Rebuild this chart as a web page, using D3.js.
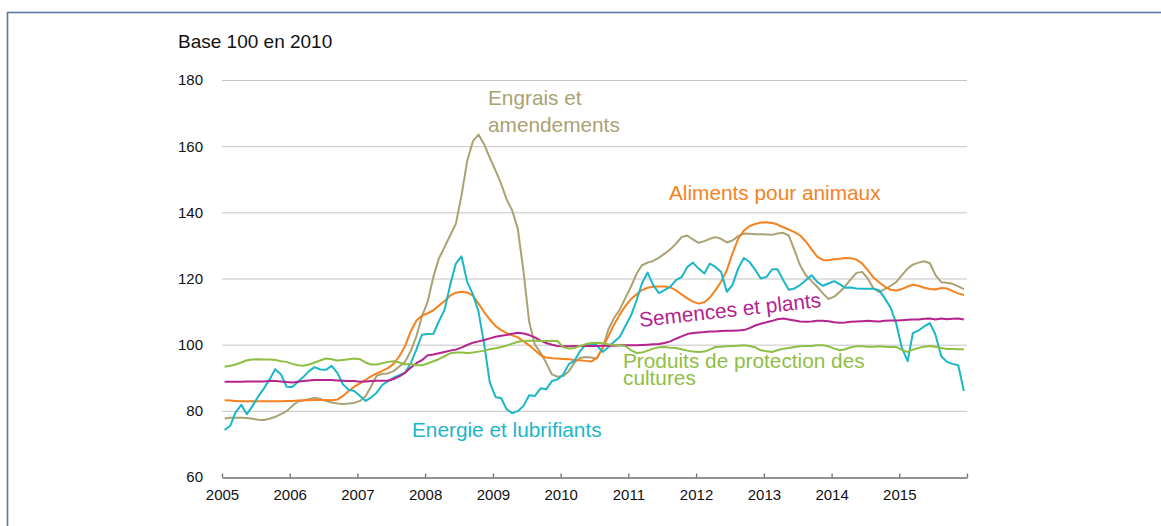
<!DOCTYPE html>
<html lang="fr">
<head>
<meta charset="utf-8">
<title>Prix des intrants agricoles</title>
<script src="https://d3js.org/d3.v7.min.js"></script>
<style>
body{margin:0;background:#fff;}
svg text{font-family:Arial,"Liberation Sans",Helvetica,sans-serif;}
</style>
</head>
<body>
<script>
// indices mensuels, janvier 2005 -> decembre 2015 (base 100 en 2010)
const years = d3.range(2005, 2016);
const yTicks = [60, 80, 100, 120, 140, 160, 180];

const engrais = [
 77.7, 77.9, 77.9, 77.9, 77.8, 77.6, 77.3, 77.2, 77.6, 78.2, 79.0, 79.9,
 81.5, 82.8, 83.1, 83.5, 84.0, 83.6, 83.0, 82.5, 82.2, 82.1, 82.2, 82.4,
 83.0, 84.5, 87.3, 90.6, 91.2, 91.3, 92.0, 93.4, 94.8, 98.0, 102.5, 108.5,
 113.0, 120.5, 126.0, 129.5, 133.0, 136.5, 145.0, 155.5, 161.5, 163.5, 160.5, 156.5,
 152.6, 148.5, 144.0, 140.5, 135.0, 122.0, 107.0, 100.0, 97.5, 94.5, 91.0, 90.3,
 90.5, 92.0, 94.5, 96.0, 96.3, 96.1, 95.8, 99.0, 104.5, 108.0, 110.5, 114.0,
 117.5, 121.5, 124.0, 124.8, 125.3, 126.3, 127.5, 128.8, 130.5, 132.5, 133.0, 131.8,
 130.8, 131.3, 132.0, 132.5, 132.0, 130.9, 131.5, 132.8, 133.6, 133.5, 133.4, 133.4,
 133.3, 133.2, 133.6, 133.8, 133.0, 128.5, 124.0, 121.0, 119.2, 117.5, 115.5, 113.8,
 114.5, 116.0, 117.6, 119.8, 121.7, 122.0, 120.0, 117.0, 115.9, 116.8, 117.8, 118.9,
 121.0, 123.0, 124.2, 124.8, 125.2, 124.6, 121.0, 118.9, 118.7, 118.4, 117.6, 116.8
];

const aliments = [
 83.2, 83.1, 83.0, 82.9, 82.9, 82.9, 82.9, 82.9, 82.9, 82.9, 82.9, 83.0,
 83.0, 83.1, 83.2, 83.2, 83.3, 83.3, 83.3, 83.2, 83.4, 84.5, 86.0, 87.3,
 88.3, 89.4, 90.4, 91.3, 92.1, 92.9, 94.2, 96.5, 99.5, 104.0, 107.2, 108.8,
 109.5, 110.4, 111.8, 113.2, 114.8, 115.7, 116.0, 115.8, 114.8, 112.4, 109.8, 107.6,
 105.6, 104.4, 103.5, 102.8, 102.2, 101.0, 99.8, 98.3, 96.8, 96.1, 95.9, 95.8,
 95.7, 95.6, 95.4, 95.3, 95.1, 94.9, 96.0, 99.0, 102.5, 106.0, 109.0, 111.6,
 113.8, 115.2, 116.5, 117.2, 117.5, 117.6, 117.6, 117.3, 116.4, 115.2, 114.0, 113.0,
 112.4, 112.8, 114.2, 116.5, 119.0, 122.5, 127.5, 132.0, 134.5, 135.8, 136.5, 136.9,
 137.0, 136.8, 136.3, 135.5, 134.8, 134.0, 133.0, 131.2, 128.8, 126.6, 125.6, 125.5,
 125.8, 126.0, 126.2, 126.1, 125.7, 124.5, 122.5, 120.3, 118.8, 117.5, 116.6, 116.4,
 116.8, 117.6, 118.1, 117.8, 117.2, 116.8, 116.7, 117.1, 117.0, 116.2, 115.5, 115.0
];

const energie = [
 74.2, 75.5, 79.5, 81.8, 79.0, 81.5, 84.3, 86.8, 89.5, 92.6, 91.0, 87.3,
 87.2, 88.8, 90.2, 92.0, 93.2, 92.5, 92.4, 93.6, 91.5, 88.0, 86.4, 86.0,
 84.5, 83.0, 84.0, 85.5, 87.8, 89.0, 90.0, 90.8, 91.5, 94.3, 98.5, 103.0,
 103.2, 103.3, 107.0, 110.5, 118.0, 124.5, 126.7, 119.0, 115.2, 110.0, 100.0, 88.5,
 84.2, 83.8, 80.5, 79.3, 79.9, 81.5, 84.7, 84.5, 86.8, 86.5, 89.0, 89.5,
 91.0, 94.2, 95.0, 98.0, 100.0, 100.3, 99.8, 97.8, 99.2, 100.8, 102.3, 105.5,
 108.8, 113.5, 118.5, 121.8, 118.0, 115.6, 116.5, 117.5, 119.5, 120.4, 123.5, 124.8,
 123.0, 121.5, 124.5, 123.5, 122.0, 116.0, 118.0, 123.0, 126.2, 125.0, 122.6, 120.0,
 120.5, 122.8, 122.8, 119.5, 116.6, 117.0, 118.0, 119.5, 121.0, 119.0, 117.8, 118.5,
 119.2, 118.2, 117.2, 117.3, 117.0, 116.9, 116.9, 116.9, 116.4, 114.0, 111.2, 106.5,
 99.0, 95.0, 103.5, 104.3, 105.5, 106.5, 103.0, 96.5, 94.8, 94.2, 93.8, 86.0
];

const semences = [
 88.8, 88.8, 88.8, 88.8, 88.9, 88.9, 88.9, 88.9, 89.0, 89.0, 88.9, 88.7,
 88.6, 88.8, 89.0, 89.2, 89.3, 89.3, 89.3, 89.3, 89.2, 89.1, 89.0, 89.0,
 88.8, 88.9, 89.0, 89.1, 89.1, 89.1, 89.6, 90.4, 91.5, 93.0, 94.4, 95.3,
 96.8, 97.0, 97.4, 97.8, 98.2, 98.5, 99.1, 99.9, 100.6, 101.0, 101.4, 101.9,
 102.4, 102.7, 102.9, 103.3, 103.6, 103.4, 102.9, 102.2, 101.2, 100.5, 100.0, 99.6,
 99.5, 99.5, 99.6, 99.6, 99.6, 99.6, 99.6, 99.7, 99.7, 99.7, 99.8, 99.8,
 99.8, 99.8, 99.9, 100.0, 100.1, 100.2, 100.5, 101.0, 101.8, 102.5, 103.2, 103.5,
 103.7, 103.8, 104.0, 104.0, 104.1, 104.2, 104.2, 104.3, 104.4, 105.0, 105.8, 106.3,
 106.8, 107.2, 107.7, 107.9, 107.6, 107.3, 107.0, 106.9, 107.0, 107.2, 107.2, 107.1,
 106.8, 106.6, 106.7, 106.9, 107.0, 107.1, 107.2, 107.1, 107.0, 107.2, 107.3, 107.3,
 107.4, 107.5, 107.6, 107.6, 107.8, 107.9, 107.6, 107.9, 107.7, 107.8, 107.9, 107.6
];

const produits = [
 93.3, 93.6, 94.0, 94.6, 95.3, 95.5, 95.6, 95.5, 95.5, 95.4, 95.0, 94.8,
 94.2, 93.8, 93.6, 94.0, 94.6, 95.2, 95.8, 95.6, 95.2, 95.4, 95.6, 95.8,
 95.6, 94.6, 94.0, 94.0, 94.4, 94.8, 95.0, 94.6, 94.0, 94.2, 93.8, 93.8,
 94.3, 95.0, 95.6, 96.5, 97.4, 97.6, 97.6, 97.5, 97.6, 97.9, 98.2, 98.6,
 98.9, 99.3, 99.7, 100.3, 100.9, 101.1, 101.2, 101.2, 101.1, 101.1, 101.2, 101.1,
 99.2, 98.8, 99.0, 99.6, 100.1, 100.5, 100.6, 100.4, 100.1, 99.9, 99.8, 99.6,
 98.3, 97.5, 97.6, 98.2, 98.8, 99.2, 99.3, 99.1, 99.0, 98.6, 98.2, 97.9,
 97.8, 97.9, 98.5, 99.3, 99.4, 99.5, 99.6, 99.7, 99.8, 99.6, 99.2, 98.3,
 98.0, 97.8, 98.3, 98.8, 99.0, 99.3, 99.5, 99.6, 99.6, 99.8, 99.8, 99.5,
 98.8, 98.3, 98.6, 99.2, 99.5, 99.5, 99.4, 99.4, 99.5, 99.4, 99.3, 99.3,
 98.4, 97.8, 98.5, 99.0, 99.4, 99.6, 99.4, 99.0, 98.7, 98.7, 98.6, 98.6
];

// dates au milieu de chaque mois
const months = d3.timeMonth.range(new Date(2005, 0, 1), new Date(2016, 0, 1))
  .map(function(d) { return new Date(d.getFullYear(), d.getMonth(), 15); });

const series = [
  {name: "engrais",  values: engrais,  color: "#aaa272"},
  {name: "aliments", values: aliments, color: "#f5821f"},
  {name: "energie",  values: energie,  color: "#1bb6c8"},
  {name: "semences", values: semences, color: "#b5238f"},
  {name: "produits", values: produits, color: "#8fbe44"}
];

const w = 1161;
const h = 526;

const x = d3.scaleTime()
  .domain([new Date(2005, 0, 1), new Date(2016, 0, 1)])
  .range([222, 967]);

const y = d3.scaleLinear()
  .domain([60, 180])
  .range([477, 80]);

const svg = d3.select("body")
  .append("svg")
  .attr("width", w)
  .attr("height", h);

// cadre
svg.append("rect")
  .attr("x", 7.5).attr("y", 12.5)
  .attr("width", 1180).attr("height", 540)
  .attr("fill", "none")
  .attr("stroke", "#5878a6")
  .attr("stroke-width", 1.6);

// titre de l'axe
svg.append("text")
  .attr("x", 178).attr("y", 48)
  .attr("font-size", 19)
  .attr("fill", "#111")
  .text("Base 100 en 2010");

// grille horizontale
svg.append("g")
  .selectAll("line")
  .data(yTicks.filter(function(d) { return d > 60; }))
  .enter()
  .append("line")
  .attr("x1", x.range()[0]).attr("x2", x.range()[1])
  .attr("y1", function(d) { return y(d) + 0.5; })
  .attr("y2", function(d) { return y(d) + 0.5; })
  .attr("stroke", "#c4c4c4")
  .attr("stroke-width", 1);

// libelles axe y
svg.append("g")
  .selectAll("text")
  .data(yTicks)
  .enter()
  .append("text")
  .attr("x", 203)
  .attr("y", function(d) { return y(d); })
  .attr("dy", "0.36em")
  .attr("text-anchor", "end")
  .attr("font-size", 15)
  .attr("fill", "#111")
  .text(function(d) { return d; });

// axe x
const tickDates = years.map(function(yr) { return new Date(yr, 0, 1); }).concat([new Date(2016, 0, 1)]);
const xAxis = d3.axisBottom(x)
  .tickValues(tickDates)
  .tickSize(-4)
  .tickSizeOuter(0)
  .tickPadding(12)
  .tickFormat(function(d) { return d.getFullYear() < 2016 ? d.getFullYear() : ""; });

const gx = svg.append("g")
  .attr("transform", "translate(0," + (y(60) + 0.5) + ")")
  .call(xAxis);
gx.select(".domain").attr("stroke", "#6e6e6e").attr("stroke-width", 1.5);
gx.selectAll(".tick line").attr("stroke", "#6e6e6e").attr("stroke-width", 1.3);
gx.selectAll(".tick text")
  .attr("font-size", 15)
  .attr("font-family", "Arial, 'Liberation Sans', Helvetica, sans-serif")
  .attr("fill", "#111");

// courbes
const line = d3.line()
  .x(function(d, i) { return x(months[i]); })
  .y(function(d) { return y(d); });

svg.append("g")
  .selectAll("path")
  .data(series)
  .enter()
  .append("path")
  .attr("d", function(d) { return line(d.values); })
  .attr("fill", "none")
  .attr("stroke", function(d) { return d.color; })
  .attr("stroke-width", 2)
  .attr("stroke-linejoin", "round");

// etiquettes des series
const labels = [
  {lines: ["Engrais et", "amendements"], color: "#aaa272", x: 488, y: 105, lh: 27, rot: 0},
  {lines: ["Aliments pour animaux"], color: "#f5821f", x: 669, y: 200, lh: 0, rot: 0},
  {lines: ["Semences et plants"], color: "#b5238f", x: 640, y: 327, lh: 0, rot: -6.3},
  {lines: ["Produits de protection des", "cultures"], color: "#8fbe44", x: 623, y: 368, lh: 17, rot: 0},
  {lines: ["Energie et lubrifiants"], color: "#1bb6c8", x: 412, y: 437, lh: 0, rot: 0}
];

labels.forEach(function(l) {
  const t = svg.append("text")
    .attr("transform", "translate(" + l.x + "," + l.y + ") rotate(" + l.rot + ")")
    .attr("font-size", 20.8)
    .attr("fill", l.color);
  l.lines.forEach(function(s, i) {
    t.append("tspan").attr("x", 0).attr("y", i * l.lh).text(s);
  });
});
</script>
</body>
</html>
